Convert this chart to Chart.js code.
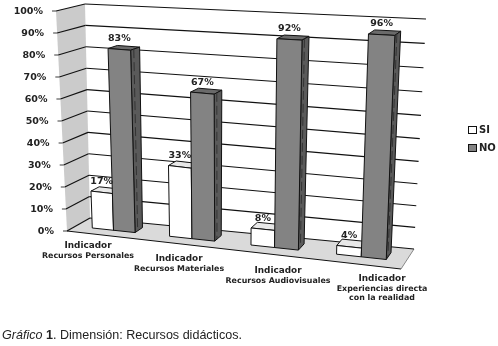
<!DOCTYPE html>
<html>
<head>
<meta charset="utf-8">
<script src="https://cdn.jsdelivr.net/npm/chart.js@4"></script>
<style>
  html, body { margin: 0; padding: 0; background: #fff; }
  #wrap { position: relative; width: 498px; height: 346px; overflow: hidden; }
  canvas { filter: blur(0.35px); }
  #caption { position: absolute; left: 2px; top: 328px; font: 12.55px "Liberation Sans", sans-serif; color: #222; white-space: nowrap; }
</style>
</head>
<body>
<div id="wrap">
  <canvas id="chart" width="498" height="346"></canvas>
  <div id="caption"><i>Gráfico</i> <b>1</b>. Dimensión: Recursos didácticos.</div>
</div>
<script>
const categories = [
  ["Indicador", "Recursos Personales"],
  ["Indicador", "Recursos Materiales"],
  ["Indicador", "Recursos Audiovisuales"],
  ["Indicador", "Experiencias directa", "con la realidad"],
];
const siValues = [17, 33, 8, 4];
const noValues = [83, 67, 92, 96];
const yTicks = [0, 10, 20, 30, 40, 50, 60, 70, 80, 90, 100];

// corners of the fake 3d box, [x, y] on the picture
const box = {
  frontTL: [56, 11], frontTR: [410, 31], frontBL: [67, 231], frontBR: [401, 269],
  backTL: [85, 4], backTR: [426, 19], backBL: [90, 218], backBR: [414, 249],
};
const barFront = 0.37;
const barBack = 0.72;
const labelCenters = [[88, 246], [179, 259], [278, 271], [382, 279]];

function mix(a, b, t) {
  return [a[0] + (b[0] - a[0]) * t, a[1] + (b[1] - a[1]) * t];
}

// u along the categories, v up the value axis, d from front to back wall
function project(u, v, d) {
  // the original perspective sags in the middle of the value axis, more to the right
  const vv = v - 0.02 * Math.sin(Math.PI * v) * Math.min(1, u * 2.5);
  const front = mix(mix(box.frontBL, box.frontBR, u), mix(box.frontTL, box.frontTR, u), vv);
  const back = mix(mix(box.backBL, box.backBR, u), mix(box.backTL, box.backTR, u), vv);
  return mix(front, back, d);
}

function poly(ctx, pts, fill, stroke) {
  ctx.beginPath();
  pts.forEach((p, i) => (i ? ctx.lineTo(p[0], p[1]) : ctx.moveTo(p[0], p[1])));
  ctx.closePath();
  if (fill) {
    ctx.fillStyle = fill;
    ctx.fill();
  }
  if (stroke) {
    ctx.strokeStyle = stroke;
    ctx.stroke();
  }
}

function seg(ctx, a, b, color) {
  ctx.beginPath();
  ctx.moveTo(a[0], a[1]);
  ctx.lineTo(b[0], b[1]);
  ctx.strokeStyle = color;
  ctx.stroke();
}

const fake3d = {
  id: "fake3d",
  beforeDatasetsDraw(chart) {
    const { ctx, chartArea: area, scales } = chart;
    const toU = (px) => {
      const u = (px - area.left) / (area.right - area.left);
      return u - 0.024 + 0.1 * (u - 0.5) * (u - 0.5);
    };
    const toV = (py) => (area.bottom - py) / (area.bottom - area.top);
    const vOf = (val) => toV(scales.y.getPixelForValue(val));

    ctx.save();
    ctx.lineWidth = 1;

    // walls and floor
    poly(ctx, [box.frontTL, box.backTL, box.backBL, box.frontBL], "#cbcbcb");
    poly(ctx, [box.frontBL, box.backBL, box.backBR, box.frontBR], "#dadada");
    seg(ctx, box.frontBL, box.frontBR, "#111");
    seg(ctx, box.frontBR, box.backBR, "#888");

    // grid and y labels
    ctx.font = "bold 9.5px 'DejaVu Sans'";
    ctx.textBaseline = "middle";
    ctx.lineWidth = 1.15;
    yTicks.forEach((t) => {
      const v = vOf(t);
      const a = project(0, v, 0);
      seg(ctx, a, project(0, v, 1), "#111");
      seg(ctx, project(0, v, 1), project(1, v, 1), "#111");
      seg(ctx, [a[0] - 4, a[1]], a, "#555");
      ctx.fillStyle = "#222";
      ctx.textAlign = "right";
      ctx.fillText(t + "%", a[0] - 13, a[1] + 1);
    });
    ctx.lineWidth = 1;

    // bars, SI first so NO overlaps it
    chart.data.datasets.forEach((ds, i) => {
      chart.getDatasetMeta(i).data.forEach((el, j) => {
        const u0 = toU(el.x - el.width / 2);
        const u1 = toU(el.x + el.width / 2);
        const vTop = toV(el.y);
        const vBase = toV(el.base);
        const fBL = project(u0, vBase, barFront);
        const fBR = project(u1, vBase, barFront);
        const fTL = project(u0, vTop, barFront);
        const fTR = project(u1, vTop, barFront);
        const bTL = project(u0, vTop, barBack);
        const bTR = project(u1, vTop, barBack);
        const bBR = project(u1, vBase, barBack);
        poly(ctx, [fTL, bTL, bTR, fTR], ds.topColor, "#111");
        poly(ctx, [fTR, bTR, bBR, fBR], ds.sideColor, "#111");
        poly(ctx, [fTL, fTR, fBR, fBL], ds.backgroundColor, "#111");
        if (i === 1) {
          // the scan has a broken dark stripe down the side of the grey bars
          ctx.save();
          ctx.setLineDash([9, 4]);
          seg(ctx, mix(fTR, bTR, 0.35), mix(fBR, bBR, 0.35), "#333");
          ctx.restore();
        }
      });
    });

    // value labels
    ctx.font = "bold 9.5px 'DejaVu Sans'";
    ctx.textAlign = "center";
    ctx.fillStyle = "#222";
    chart.data.datasets.forEach((ds, i) => {
      chart.getDatasetMeta(i).data.forEach((el, j) => {
        const p = project(toU(el.x), toV(el.y), barFront);
        ctx.fillText(ds.data[j] + "%", p[0], p[1] - 11);
      });
    });

    // category labels
    categories.forEach((lines, c) => {
      const [cx, cy] = labelCenters[c];
      lines.forEach((line, n) => {
        ctx.font = n === 0 ? "bold 8.9px 'DejaVu Sans'" : "bold 7.9px 'DejaVu Sans'";
        ctx.fillText(line, cx, cy + (n === 0 ? 0 : 1 + n * 9));
      });
    });

    // legend
    chart.data.datasets.forEach((ds, i) => {
      const y = 130 + i * 18;
      ctx.fillStyle = ds.backgroundColor;
      ctx.fillRect(468.5, y - 3.5, 8, 7);
      ctx.strokeStyle = "#111";
      ctx.strokeRect(468.5, y - 3.5, 8, 7);
      ctx.fillStyle = "#222";
      ctx.textAlign = "left";
      ctx.font = "bold 10px 'DejaVu Sans'";
      ctx.fillText(ds.label, 479, y);
    });

    ctx.restore();
    return false;
  },
};

new Chart(document.getElementById("chart"), {
  type: "bar",
  data: {
    labels: categories,
    datasets: [
      { label: "SI", data: siValues, backgroundColor: "#ffffff", sideColor: "#f0f0f0", topColor: "#e8e8e8" },
      { label: "NO", data: noValues, backgroundColor: "#838383", sideColor: "#5a5a5a", topColor: "#6a6a6a" },
    ],
  },
  options: {
    responsive: false,
    animation: false,
    categoryPercentage: 0.56,
    barPercentage: 1,
    plugins: { legend: { display: false }, tooltip: { enabled: false } },
    scales: {
      x: { display: false },
      y: { display: false, min: 0, max: 100 },
    },
  },
  plugins: [fake3d],
});
</script>
</body>
</html>
